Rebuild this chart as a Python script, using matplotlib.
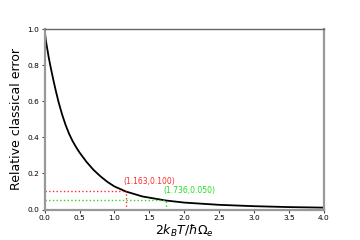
import matplotlib
matplotlib.use("Agg")
import matplotlib.pyplot as plt

# curve: x = 2 k_B T / (hbar Omega_e), y = relative classical error
x_vals = [0.00, 0.01, 0.02, 0.04, 0.06, 0.08, 0.10, 0.13, 0.16, 0.20, 0.25, 0.30,
          0.35, 0.40, 0.45, 0.50, 0.60, 0.70, 0.80, 0.90, 1.00, 1.163, 1.40, 1.736,
          2.00, 2.50, 3.00, 3.50, 4.00]
err_vals = [1.000, 0.960, 0.930, 0.885, 0.840, 0.800, 0.763, 0.709, 0.658, 0.595,
            0.527, 0.469, 0.420, 0.380, 0.346, 0.316, 0.264, 0.220, 0.184, 0.153,
            0.128, 0.100, 0.0725, 0.050, 0.0385, 0.026, 0.0185, 0.0135, 0.0105]

marks_x = [1.163, 1.736]
marks_y = [0.100, 0.050]
mark_colors = ["#ff2a2a", "#22dd22"]

fig = plt.figure(figsize=(3.6, 2.4), dpi=100)
ax = fig.add_axes([0.124, 0.127, 0.775, 0.752])

ax.plot(x_vals, err_vals, color="black", lw=1.3)
for mx, my, c in zip(marks_x, marks_y, mark_colors):
    ax.plot([0, mx], [my, my], ls=":", color=c, lw=1.0)
    ax.plot([mx, mx], [0, my], ls=":", color=c, lw=1.0)
    ax.text(mx - 0.03, my + 0.032, f"({mx:.3f},{my:.3f})", color=c,
            fontsize=5.5, ha="left", va="bottom")

ax.set_xlim(0, 4.0)
ax.set_ylim(0, 1.0)
ax.set_xticks([0.0, 0.5, 1.0, 1.5, 2.0, 2.5, 3.0, 3.5, 4.0])
ax.set_yticks([0.0, 0.2, 0.4, 0.6, 0.8, 1.0])
ax.tick_params(labelsize=5.3, length=2.5, width=0.8, pad=1.5, color="#444444")
ax.set_xlabel(r"$2k_BT/\hbar\Omega_e$", fontsize=9, labelpad=1)
ax.set_ylabel("Relative classical error", fontsize=9, labelpad=3)

for side in ("left", "right", "bottom"):
    ax.spines[side].set_color("#999999")
    ax.spines[side].set_linewidth(1.6)
ax.spines["top"].set_color("#666666")
ax.spines["top"].set_linewidth(1.0)

fig.savefig("out.png", dpi=100)
